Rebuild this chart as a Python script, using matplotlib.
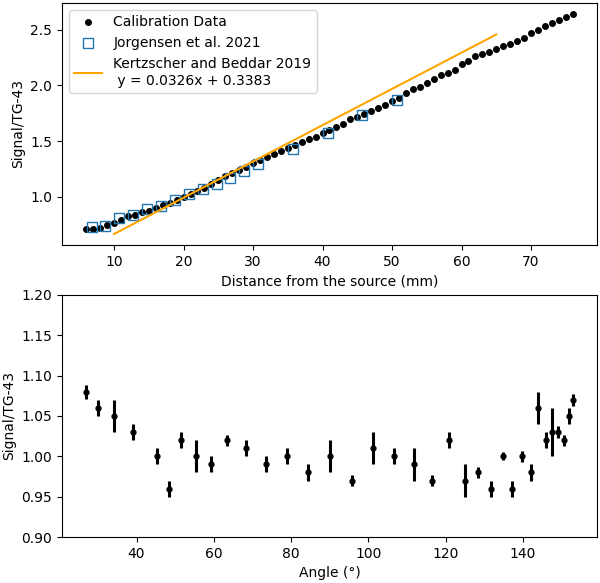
import numpy as np
import matplotlib
matplotlib.use("Agg")
import matplotlib.pyplot as plt

# Calibration data (distance in mm, signal/TG-43)
cal_x = np.arange(6, 77, 1)
cal_y = [0.705, 0.708, 0.715, 0.745, 0.760, 0.790, 0.825, 0.836, 0.860, 0.875,
         0.900, 0.922, 0.945, 0.970, 1.000, 1.020, 1.050, 1.080, 1.110, 1.150,
         1.185, 1.210, 1.240, 1.270, 1.300, 1.330, 1.355, 1.380, 1.407, 1.437,
         1.467, 1.490, 1.520, 1.540, 1.570, 1.600, 1.630, 1.656, 1.695, 1.717,
         1.747, 1.770, 1.800, 1.826, 1.856, 1.890, 1.932, 1.968, 1.990, 2.020,
         2.059, 2.090, 2.114, 2.141, 2.190, 2.223, 2.263, 2.280, 2.296, 2.323,
         2.354, 2.375, 2.400, 2.430, 2.475, 2.496, 2.530, 2.560, 2.585, 2.612,
         2.642]

# Jorgensen et al. 2021
jor_x = [6.75, 8.75, 10.75, 12.75, 14.75, 16.75, 18.75, 20.75, 22.75, 24.75,
         26.75, 28.75, 30.75, 35.75, 40.75, 45.75, 50.75]
jor_y = [0.725, 0.739, 0.806, 0.836, 0.891, 0.915, 0.966, 1.021, 1.073, 1.112,
         1.164, 1.230, 1.291, 1.430, 1.573, 1.730, 1.870]

# Kertzscher and Beddar 2019 fit
fit_slope = 0.0326
fit_icpt = 0.3383
fit_range = [10, 65]

# Angular dependence
ang = [27.0, 30.0, 34.1, 39.0, 45.4, 48.4, 51.5, 55.3, 59.2, 63.5,
       68.4, 73.5, 78.9, 84.4, 90.0, 95.7, 101.3, 106.7, 111.7, 116.5,
       120.8, 125.0, 128.5, 131.8, 134.8, 137.3, 139.9, 142.2, 144.0, 146.0,
       147.6, 149.1, 150.7, 151.9, 152.9]
ang_sig = [1.08, 1.06, 1.05, 1.03, 1.00, 0.96, 1.02, 1.00, 0.99, 1.02,
           1.01, 0.99, 1.00, 0.98, 1.00, 0.97, 1.01, 1.00, 0.99, 0.97,
           1.02, 0.97, 0.98, 0.96, 1.00, 0.96, 1.00, 0.98, 1.06, 1.02,
           1.03, 1.03, 1.02, 1.05, 1.07]
ang_err = [0.009, 0.01, 0.02, 0.01, 0.01, 0.01, 0.01, 0.02, 0.01, 0.007,
           0.01, 0.01, 0.01, 0.01, 0.02, 0.007, 0.02, 0.01, 0.02, 0.007,
           0.01, 0.02, 0.007, 0.01, 0.005, 0.01, 0.007, 0.01, 0.02, 0.01,
           0.03, 0.007, 0.007, 0.01, 0.007]

fig = plt.figure(figsize=(6, 5.83), dpi=100)

ax1 = fig.add_axes([0.1033, 0.5798, 0.8917, 0.4151])
ax1.plot(cal_x, cal_y, 'k.', ms=8, label='Calibration Data')
ax1.plot(jor_x, jor_y, 's', mfc='none', mec='tab:blue', ms=7, label='Jorgensen et al. 2021')
fx = np.array(fit_range)
ax1.plot(fx, fit_slope * fx + fit_icpt, color='orange',
         label='Kertzscher and Beddar 2019\n y = %.4fx + %.4f' % (fit_slope, fit_icpt))
ax1.set_xlabel('Distance from the source (mm)')
ax1.set_ylabel('Signal/TG-43')
ax1.set_yticks([1.0, 1.5, 2.0, 2.5])
ax1.legend(loc='upper left')

ax2 = fig.add_axes([0.1033, 0.0789, 0.8917, 0.4151])
ax2.errorbar(ang, ang_sig, yerr=ang_err, fmt='o', color='k', ms=3.5, elinewidth=2.2)
ax2.set_ylim(0.90, 1.20)
ax2.set_yticks(np.arange(0.90, 1.201, 0.05))
ax2.set_xlabel('Angle (°)')
ax2.set_ylabel('Signal/TG-43')

fig.savefig('out.png', dpi=100)
